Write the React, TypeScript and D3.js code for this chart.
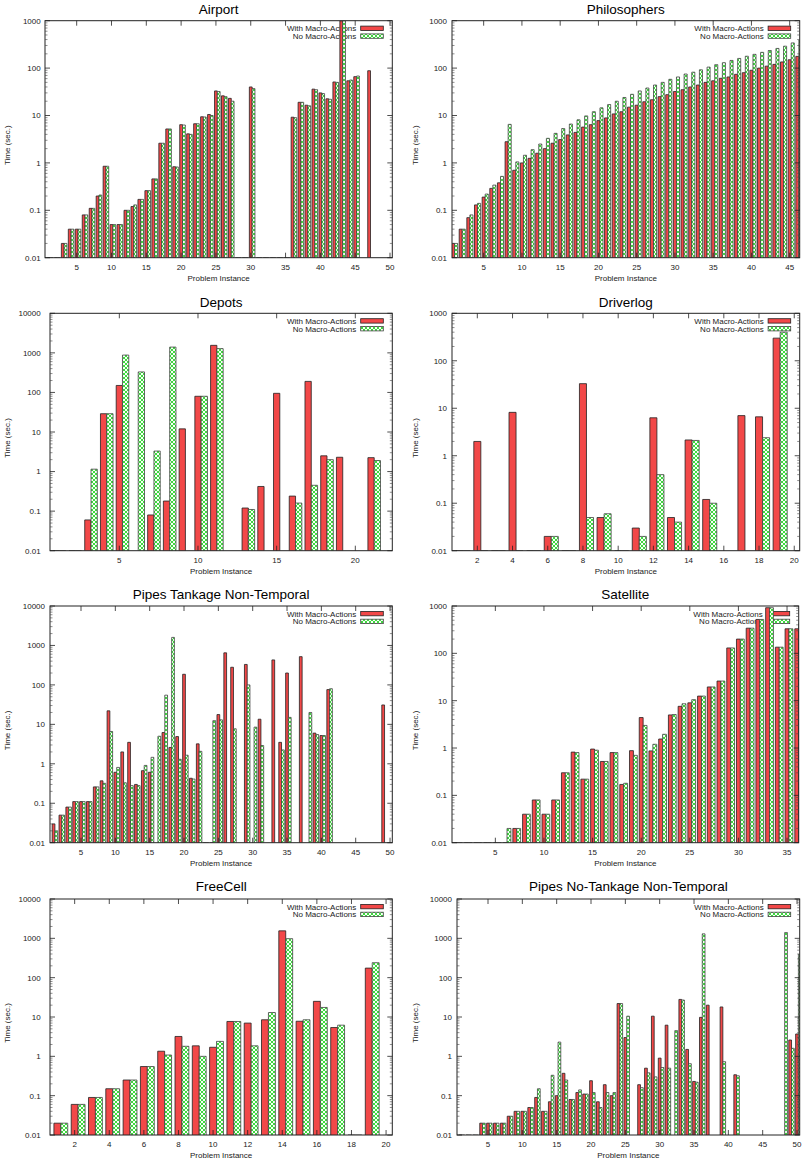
import React from 'react';
import * as d3 from 'd3';

const FONT = '"Liberation Sans", Arial, Helvetica, sans-serif';
const RED = '#f24848';
const SERIES = ['With Macro-Actions', 'No Macro-Actions'];

// ---- data (index 0 = problem instance 1; null = no bar; 0.01 = flat bar on the axis)
const airportWith = [0.01, 0.01, 0.02, 0.04, 0.04, 0.08, 0.11, 0.2, 0.85, 0.05, 0.05, 0.1, 0.12, 0.17, 0.26, 0.46, 2.6, 5.2, 0.83, 6.4, 4.1, 6.7, 9.4, 10.5, 33, 26, 23, 0.01, 0.01, 40, 0.01, 0.01, 0.01, 0.01, 0.01, 9.2, 19, 16.5, 36, 30, 22.5, 51, 1000, 54, 66, null, 88];
const airportWithout = [0.01, 0.01, 0.02, 0.04, 0.04, 0.08, 0.11, 0.21, 0.85, 0.05, 0.05, 0.1, 0.13, 0.17, 0.26, 0.46, 2.6, 5.2, 0.82, 6.3, 4.0, 6.7, 9.3, 10, 32, 25, 20, 0.01, 0.01, 37, 0.01, 0.01, 0.01, 0.01, 0.01, 9.0, 19, 16, 35, 29, 22, 50, 1000, 56, 68, null, null];

const philWith = [0.02, 0.04, 0.07, 0.13, 0.19, 0.29, 0.38, 2.8, 0.7, 1.0, 1.25, 1.6, 2.0, 2.6, 3.1, 3.9, 4.4, 5.7, 6.4, 7.8, 8.9, 10.8, 12, 15, 16.5, 19.5, 21.5, 25, 27.5, 32, 35, 40, 44, 50, 54, 61, 65, 74, 80, 90, 100, 110, 120, 135, 150, 177];
const philWithout = [0.02, 0.04, 0.08, 0.14, 0.22, 0.34, 0.52, 6.5, 1.05, 1.45, 1.9, 2.5, 3.3, 4.2, 5.3, 6.6, 8.1, 9.8, 12, 14.5, 17, 20, 24, 28, 33, 38, 44, 50, 58, 65, 75, 82, 92, 105, 118, 130, 145, 160, 178, 195, 215, 235, 260, 290, 340, 390];

const depotsWith = [0.01, 0.01, 0.06, 29, 150, null, 0.08, 0.18, 12, 80, 1550, null, 0.12, 0.42, 95, 0.24, 190, 2.5, 2.3, null, 2.25];
const depotsWithout = [0.01, 0.01, 1.15, 29, 880, 330, 3.3, 1400, null, 80, 1280, null, 0.11, null, null, 0.16, 0.45, 2.0, null, null, 1.9];

const driverWith = [0.01, 2.0, 0.01, 8.2, 0.01, 0.02, 0.01, 33, 0.05, 0.01, 0.03, 6.3, 0.05, 2.15, 0.12, null, 7.0, 6.6, 300];
const driverWithout = [0.01, 0.01, 0.01, 0.01, 0.01, 0.02, 0.01, 0.05, 0.06, 0.01, 0.02, 0.4, 0.04, 2.1, 0.1, null, null, 2.4, 400];

const pipesTWith = [0.03, 0.05, 0.08, 0.11, 0.11, 0.11, 0.26, 0.37, 22, 0.61, 2.0, 3.5, 0.3, 0.67, 0.61, null, 6.2, 2.6, 4.9, 186, 0.43, 3.2, 0.01, 0.01, 17.7, 650, 280, null, 330, null, 13.5, null, 430, 3.5, 200, null, 520, null, 6.0, 5.2, 76, null, null, null, null, null, null, null, 31];
const pipesTWithout = [0.02, 0.05, 0.08, 0.11, 0.11, 0.11, 0.26, 0.32, 6.6, 0.81, 0.33, 0.28, 0.28, 0.91, 1.46, 5.0, 55, 1600, 1.3, 1.65, 0.41, 2.07, 0.01, 12.4, 13, null, 7.7, null, 100, 8.5, 2.9, null, null, 2.25, 15, null, null, 20, 5.5, 5.2, 80];

const satWith = [0.01, 0.01, 0.01, 0.01, 0.01, 0.01, 0.02, 0.04, 0.08, 0.04, 0.08, 0.3, 0.82, 0.22, 0.95, 0.52, 0.8, 0.17, 0.88, 4.4, 0.87, 1.55, 5.0, 7.6, 9.0, 12.5, 19.5, 26, 130, 200, 340, 520, 920, 135, 330, 330];
const satWithout = [0.01, 0.01, 0.01, 0.01, 0.01, 0.02, 0.02, 0.04, 0.08, 0.04, 0.08, 0.3, 0.8, 0.22, 0.9, 0.52, 0.8, 0.18, 0.7, 3.0, 1.2, 1.95, 5.1, 8.6, 10.5, 12.5, 19.5, 26, 130, 200, 340, 520, 920, 135, 330, 420];

const freeWith = [0.02, 0.06, 0.09, 0.15, 0.25, 0.55, 1.35, 3.2, 1.85, 1.7, 7.7, 7.0, 8.5, 1550, 7.8, 25, 5.4, 0.01, 175];
const freeWithout = [0.02, 0.06, 0.09, 0.15, 0.25, 0.55, 1.08, 1.8, 1.0, 2.4, 7.7, 1.85, 13, 980, 8.5, 17.5, 6.2, 0.01, 240];

const pipesNWith = [0.01, 0.01, 0.01, 0.02, 0.02, 0.02, 0.02, 0.03, 0.04, 0.04, 0.05, 0.09, 0.04, 0.07, 0.1, 0.37, 0.08, 0.12, 0.11, 0.24, 0.07, 0.19, 0.1, 22, 3.0, null, 0.19, 0.5, 10.5, 0.9, 6.2, null, 28, 1.5, 0.23, 9.8, 20, null, 18, null, 0.34, null, null, null, null, null, null, null, 2.6, 3.7];
const pipesNWithout = [0.01, 0.01, 0.01, 0.02, 0.02, 0.02, 0.02, 0.03, 0.04, 0.04, 0.05, 0.15, 0.04, 0.33, 2.3, 0.25, 0.08, 0.14, 0.11, 0.12, 0.05, 0.12, 0.12, 22, 10.5, null, 0.16, 0.38, 0.3, 0.52, 0.5, 4.5, 27, 0.65, 0.22, 1300, null, null, 0.73, null, 0.32, null, null, null, null, null, null, 1400, 1.6, 390];

const ticks5to50 = [5, 10, 15, 20, 25, 30, 35, 40, 45, 50];
const ticks5to45 = [5, 10, 15, 20, 25, 30, 35, 40, 45];
const ticks5to20 = [5, 10, 15, 20];
const ticks5to35 = [5, 10, 15, 20, 25, 30, 35];
const ticks2to20 = [2, 4, 6, 8, 10, 12, 14, 16, 18, 20];

interface Spec {
  title: string;
  ox: number; oy: number;
  L: number; R: number; T: number; B: number;
  yMax: number;
  xDom: [number, number];
  xTicks: number[];
  yTickEnd: number;
  yLabelX: number;
  titleY: number;
  withVals: (number | null)[];
  withoutVals: (number | null)[];
}

const specs: Spec[] = [
  { title: 'Airport', ox: 0, oy: 0, L: 45, R: 392.3, T: 20.7, B: 257.7, yMax: 1000, xDom: [0.45, 50.33], xTicks: ticks5to50, yTickEnd: 40.7, yLabelX: 7.5, titleY: 9.5, withVals: airportWith, withoutVals: airportWithout },
  { title: 'Philosophers', ox: 402, oy: 0, L: 50, R: 397.7, T: 20.7, B: 257.7, yMax: 1000, xDom: [0.86, 46.31], xTicks: ticks5to45, yTickEnd: 45, yLabelX: 13.3, titleY: 9.5, withVals: philWith, withoutVals: philWithout },
  { title: 'Depots', ox: 0, oy: 290, L: 50, R: 392.3, T: 23.3, B: 260.7, yMax: 10000, xDom: [0.593, 22.35], xTicks: ticks5to20, yTickEnd: 40.7, yLabelX: 7.5, titleY: 12.3, withVals: depotsWith, withoutVals: depotsWithout },
  { title: 'Driverlog', ox: 402, oy: 290, L: 50, R: 397.7, T: 23.3, B: 260.7, yMax: 1000, xDom: [0.562, 20.31], xTicks: ticks2to20, yTickEnd: 45, yLabelX: 13.3, titleY: 12.3, withVals: driverWith, withoutVals: driverWithout },
  { title: 'Pipes Tankage Non-Temporal', ox: 0, oy: 580, L: 50, R: 392.3, T: 26, B: 262.7, yMax: 10000, xDom: [0.485, 50.33], xTicks: ticks5to50, yTickEnd: 45, yLabelX: 7.5, titleY: 14, withVals: pipesTWith, withoutVals: pipesTWithout },
  { title: 'Satellite', ox: 402, oy: 580, L: 50, R: 396.7, T: 26, B: 262.7, yMax: 1000, xDom: [0.542, 36.2], xTicks: ticks5to35, yTickEnd: 45, yLabelX: 13.3, titleY: 14, withVals: satWith, withoutVals: satWithout },
  { title: 'FreeCell', ox: 0, oy: 870, L: 50, R: 392.3, T: 29, B: 265, yMax: 10000, xDom: [0.574, 20.36], xTicks: ticks2to20, yTickEnd: 40.7, yLabelX: 7.5, titleY: 16.7, withVals: freeWith, withoutVals: freeWithout },
  { title: 'Pipes No-Tankage Non-Temporal', ox: 402, oy: 870, L: 55, R: 397.7, T: 29, B: 265, yMax: 10000, xDom: [0.485, 50.39], xTicks: ticks5to50, yTickEnd: 50, yLabelX: 13.3, titleY: 16.7, withVals: pipesNWith, withoutVals: pipesNWithout },
];

const fmtY = (v: number) => (v >= 1 ? String(Math.round(v)) : String(+v.toPrecision(1)));

function Panel({ s, id }: { s: Spec; id: number }) {
  const x = d3.scaleLinear().domain(s.xDom).range([s.L, s.R]);
  const y = d3.scaleLog().domain([0.01, s.yMax]).range([s.B, s.T]);
  const all = y.ticks();
  const isMajor = (v: number) => Math.abs(Math.log10(v) - Math.round(Math.log10(v))) < 1e-6;
  const major = all.filter(isMajor);
  const minor = all.filter((v) => !isMajor(v));
  const bar = (x0: number, x1: number, v: number) => {
    const yt = y(Math.min(Math.max(v, 0.01), s.yMax * 1.5));
    return `M${x0},${s.B}V${yt}H${x1}V${s.B}`;
  };
  const cx = (s.L + s.R) / 2;
  const cy = (s.T + s.B) / 2;
  const clipId = `clip${id}`;
  const legRow = [s.T + 7.6, s.T + 15.4];
  return (
    <g transform={`translate(${s.ox},${s.oy})`}>
      <defs>
        <clipPath id={clipId}>
          <rect x={s.L} y={s.T} width={s.R - s.L} height={s.B - s.T} />
        </clipPath>
      </defs>
      <text x={cx} y={s.titleY + 4.5} textAnchor="middle" fontSize={13.5} fill="#000">{s.title}</text>
      {/* legend */}
      {SERIES.map((name, i) => (
        <g key={name}>
          <text x={s.R - 36} y={legRow[i] + 2.9} textAnchor="end" fontSize={8} fill="#222">{name}</text>
          <rect x={s.R - 31.6} y={legRow[i] - 2.2} width={22.6} height={4.4}
            fill={i === 0 ? RED : 'url(#greenPat)'} stroke={i === 0 ? '#222' : '#444'} strokeWidth={0.8} />
        </g>
      ))}
      <g clipPath={`url(#${clipId})`}>
        {s.withVals.map((v, i) => v == null ? null : (
          <path key={`w${i}`} d={bar(x(i + 1 - 0.2), x(i + 1 + 0.2), v)} fill={RED} stroke="#222" strokeWidth={0.8} />
        ))}
        {s.withoutVals.map((v, i) => v == null ? null : (
          <path key={`n${i}`} d={bar(x(i + 1 + 0.2), x(i + 1 + 0.6), v)} fill="url(#greenPat)" stroke="#444" strokeWidth={0.8} />
        ))}
      </g>
      <rect x={s.L} y={s.T} width={s.R - s.L} height={s.B - s.T} fill="none" stroke="#222" strokeWidth={1} />
      {/* y ticks */}
      {major.map((v) => (
        <g key={`ym${v}`}>
          <line x1={s.L} x2={s.L + 5} y1={y(v)} y2={y(v)} stroke="#222" strokeWidth={0.8} />
          <line x1={s.R} x2={s.R - 5} y1={y(v)} y2={y(v)} stroke="#222" strokeWidth={0.8} />
          <text x={s.yTickEnd} y={y(v) + 2.9} textAnchor="end" fontSize={8} fill="#222">{fmtY(v)}</text>
        </g>
      ))}
      {minor.map((v) => (
        <g key={`yn${v}`}>
          <line x1={s.L} x2={s.L + 2.5} y1={y(v)} y2={y(v)} stroke="#444" strokeWidth={0.6} />
          <line x1={s.R} x2={s.R - 2.5} y1={y(v)} y2={y(v)} stroke="#444" strokeWidth={0.6} />
        </g>
      ))}
      {/* x ticks */}
      {s.xTicks.map((t) => (
        <g key={`x${t}`}>
          <line x1={x(t)} x2={x(t)} y1={s.B} y2={s.B - 5} stroke="#222" strokeWidth={0.8} />
          <line x1={x(t)} x2={x(t)} y1={s.T} y2={s.T + 5} stroke="#222" strokeWidth={0.8} />
          <text x={x(t)} y={s.B + 12} textAnchor="middle" fontSize={8} fill="#222">{t}</text>
        </g>
      ))}
      <text x={cx} y={s.B + 23} textAnchor="middle" fontSize={8} fill="#222">Problem Instance</text>
      <text transform={`translate(${s.yLabelX},${cy + 6}) rotate(-90)`} textAnchor="middle" dy="0.35em" fontSize={8} fill="#222">Time (sec.)</text>
    </g>
  );
}

export default function App() {
  return (
    <svg width={804} height={1159} viewBox="0 0 804 1159"
      style={{ position: 'absolute', left: 0, top: 0, background: '#fff' }}
      fontFamily={FONT}>
      <defs>
        <pattern id="greenPat" patternUnits="userSpaceOnUse" width={4} height={4}>
          <rect width={4} height={4} fill="#f6fff6" />
          <path d="M0,0L4,4M4,0L0,4" stroke="#2bd42b" strokeWidth={0.9} />
        </pattern>
      </defs>
      <rect width={804} height={1159} fill="#fff" />
      {specs.map((s, i) => <Panel key={s.title} s={s} id={i} />)}
    </svg>
  );
}
